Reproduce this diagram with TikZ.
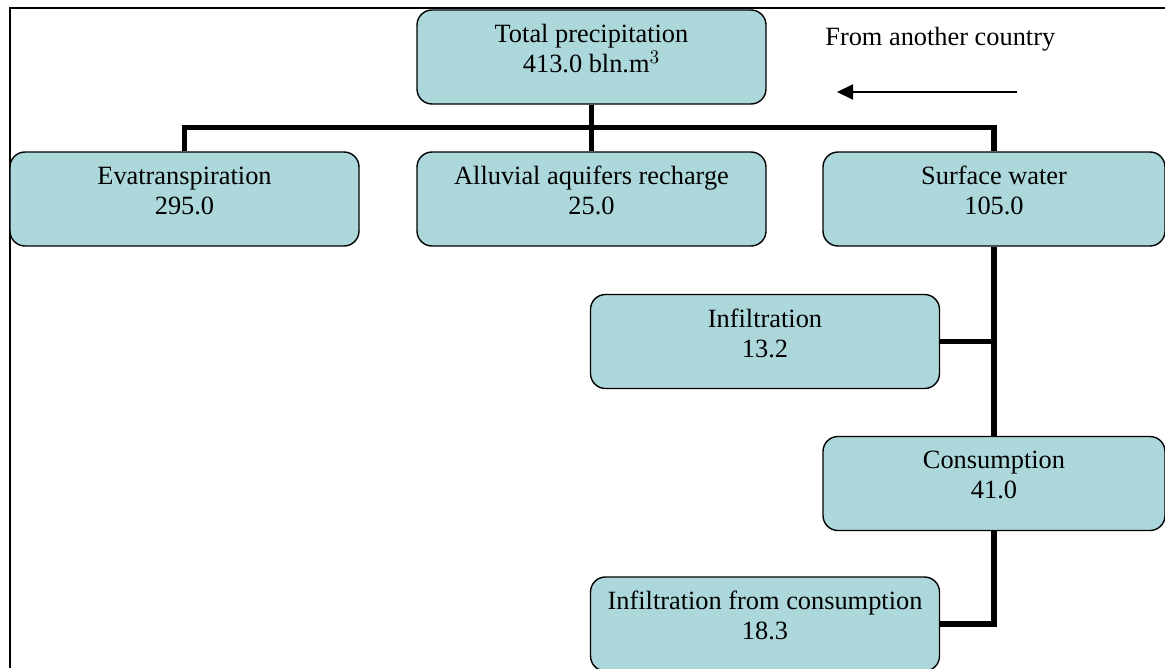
\documentclass[tikz,border=0pt]{standalone}
\usepackage{fontspec}
\setmainfont{Liberation Serif}
\usetikzlibrary{arrows.meta}
\definecolor{boxfill}{RGB}{172,215,219}

\begin{document}
\begin{tikzpicture}[
		box/.style={draw, fill=boxfill, rounded corners=0.3cm, line width=0.8pt, minimum width=6.98cm, minimum height=1.88cm, align=center, text depth=0.34cm, font=\fontsize{15}{17}\selectfont},
		link/.style={line width=3pt}]
	\useasboundingbox (0, 0) rectangle (23.3, -13.36);
	\draw[line width=1.1pt] (0.2, -13.36) -- (0.2, -0.16) -- (23.3, -0.16);
	\node[box] (total) at (11.83, -1.14) {Total precipitation\\413.0 bln.m$^3$};
	\node[box] (evap) at (3.69, -3.98) {Evatranspiration\\295.0};
	\node[box] (alluvial) at (11.83, -3.98) {Alluvial aquifers recharge\\25.0};
	\node[box, minimum width=6.84cm] (surface) at (19.88, -3.98) {Surface water\\105.0};
	\node[box] (infil) at (15.3, -6.83) {Infiltration\\13.2};
	\node[box, minimum width=6.84cm] (consum) at (19.88, -9.67) {Consumption\\41.0};
	\node[box] (infcons) at (15.3, -12.48) {Infiltration from consumption\\18.3};
	\draw[link] (total) -- (alluvial);
	\draw[link] (evap.north) -- ++(0, 0.48) -| (surface.north);
	\draw[link] (surface) -- (consum);
	\draw[link] (infil.east) -- (infil.east -| surface.south);
	\draw[link] (consum.south) |- (infcons.east);
	\node[font=\fontsize{15}{17}\selectfont, inner sep=0, anchor=base west] (country) at (16.5, -0.9) {From another country};
	\coordinate (flowstart) at (20.34, -1.84);
	\coordinate (flowend) at (16.74, -1.84);
	\draw[line width=1.1pt, -{Triangle[length=0.32cm, width=0.3cm]}] (flowstart) -- (flowend);
\end{tikzpicture}
\end{document}
